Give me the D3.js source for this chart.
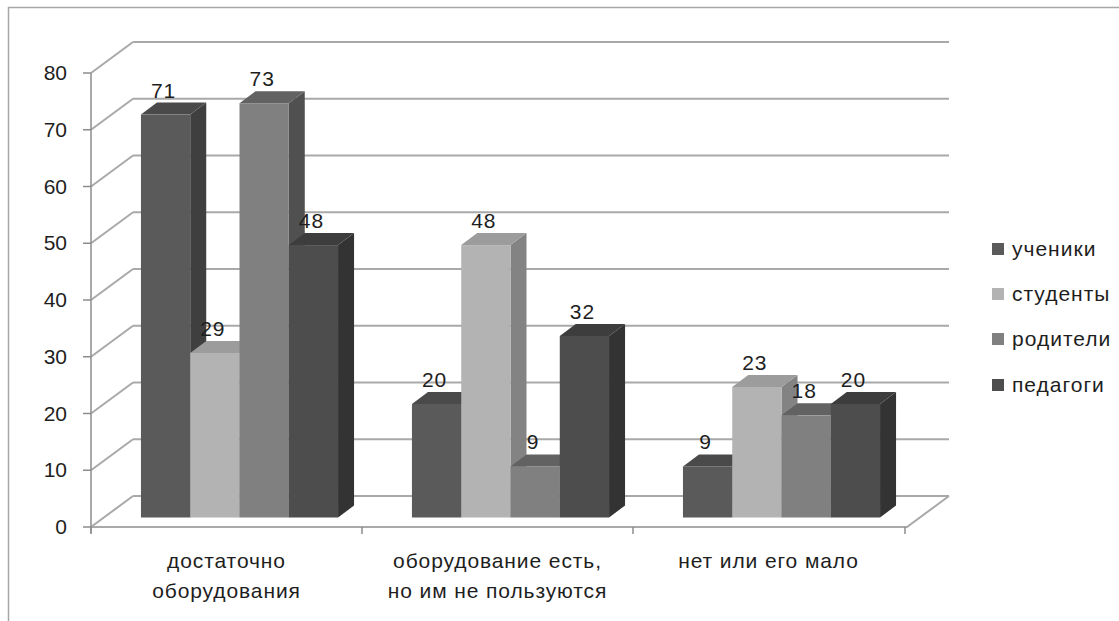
<!DOCTYPE html>
<html lang="ru">
<head>
<meta charset="utf-8">
<script src="https://cdn.jsdelivr.net/npm/d3@7"></script>
<style>
  html, body { margin: 0; padding: 0; background: #fff; }
  svg { display: block; }
  text { font-family: "Liberation Sans", Arial, sans-serif; fill: #1e1e1e; }
</style>
</head>
<body>
<svg id="chart" width="1119" height="621"></svg>
<script>
// Categories (two-line labels) and series
const categories = ["достаточно оборудования", "оборудование есть, но им не пользуются", "нет или его мало"];
const categoryLines = [["достаточно", "оборудования"], ["оборудование есть,", "но им не пользуются"], ["нет или его мало"]];
const seriesNames = ["ученики", "студенты", "родители", "педагоги"];
const pupils   = [71, 20, 9];
const students = [29, 48, 23];
const parents  = [73, 9, 18];
const teachers = [48, 32, 20];
const seriesValues = [pupils, students, parents, teachers];
const yTicks = [0, 10, 20, 30, 40, 50, 60, 70, 80];

// Face shades per series: front, top, side
const shades = [
  { front: "#5a5a5a", top: "#4a4a4a", side: "#3f3f3f" },
  { front: "#b3b3b3", top: "#9c9c9c", side: "#838383" },
  { front: "#808080", top: "#626262", side: "#505050" },
  { front: "#4d4d4d", top: "#3d3d3d", side: "#333333" }
];

const svg = d3.select("#chart");

// Outer frame (top and left edges)
svg.append("path")
  .attr("d", "M8.5,621 L8.5,7.5 L1119,7.5")
  .attr("fill", "none").attr("stroke", "#a6a6a6").attr("stroke-width", 1.5);

// Front plane geometry
const x0 = 91, x1 = 904;
const y = d3.scaleLinear().domain([0, 80]).range([527, 73]);
const x = d3.scaleBand().domain(categories).range([x0, x1]).padding(0);
const xs = d3.scaleBand().domain(seriesNames).range([0, x.bandwidth()])
  .paddingInner(0).paddingOuter(0.75);

// 3D depth offsets: full wall depth, bar placement, bar thickness
const DX = 42, DY = -31;
const BX = 13, BY = -9.5;
const TX = 16, TY = -12;

const gridColor = "#a9a9a9";
const grid = svg.append("g").attr("fill", "none").attr("stroke", gridColor).attr("stroke-width", 2);

// Back wall gridlines + left side wall diagonals
yTicks.forEach(v => {
  const yy = y(v);
  grid.append("path").attr("d", `M${x0 + DX},${yy + DY} L${x1 + 3 + DX},${yy + DY}`);
  grid.append("path").attr("d", `M${x0},${yy} L${x0 + DX},${yy + DY}`);
});
// Floor front edge and right edge
grid.append("path").attr("d", `M${x0},${y(0)} L${x1 + 3},${y(0)} L${x1 + 3 + DX},${y(0) + DY}`);

// Vertical axis with ticks
const axisG = svg.append("g").attr("stroke", "#8c8c8c").attr("stroke-width", 1.5).attr("fill", "none");
axisG.append("path").attr("d", `M${x0},${y(80)} L${x0},${y(0) + 6}`);
yTicks.forEach(v => axisG.append("path").attr("d", `M${x0 - 8},${y(v)} L${x0},${y(v)}`));
// Category boundary ticks on the floor edge
[0, 1, 2, 3].forEach(i => {
  const xx = i < 3 ? x(categories[i]) : x1 + 1;
  axisG.append("path").attr("d", `M${xx},${y(0)} L${xx},${y(0) + 7}`);
});

// Y tick labels
svg.append("g").selectAll("text").data(yTicks).join("text")
  .attr("x", 67).attr("y", d => y(d) + 7)
  .attr("text-anchor", "end").attr("font-size", 21)
  .text(d => d);

// Bars (drawn left to right so each front face covers the previous side face)
const barsG = svg.append("g");
const labelsG = svg.append("g");
categories.forEach((c, ci) => {
  seriesNames.forEach((s, si) => {
    const v = seriesValues[si][ci];
    const w = xs.bandwidth();
    const lx = x(c) + xs(s) + BX;
    const rx = lx + w;
    const by = y(0) + BY;
    const ty = y(v) + BY;
    const sh = shades[si];
    const g = barsG.append("g");
    // side face
    g.append("path").attr("fill", sh.side)
      .attr("d", `M${rx},${by} L${rx + TX},${by + TY} L${rx + TX},${ty + TY} L${rx},${ty} Z`);
    // top face
    g.append("path").attr("fill", sh.top)
      .attr("d", `M${lx},${ty} L${lx + TX},${ty + TY} L${rx + TX},${ty + TY} L${rx},${ty} Z`);
    // front face
    g.append("rect").attr("fill", sh.front)
      .attr("x", lx).attr("y", ty).attr("width", w).attr("height", by - ty);
    // value label
    labelsG.append("text")
      .attr("x", lx + w / 2 - 2).attr("y", ty + TY - 5)
      .attr("text-anchor", "middle").attr("font-size", 21)
      .attr("letter-spacing", 1)
      .text(v);
  });
});

// Category labels
categories.forEach((c, ci) => {
  const cx = x(c) + x.bandwidth() / 2;
  const t = svg.append("text").attr("text-anchor", "middle").attr("font-size", 21)
    .attr("letter-spacing", 0.9);
  categoryLines[ci].forEach((line, li) => {
    t.append("tspan").attr("x", cx).attr("y", 568 + li * 30).text(line);
  });
});

// Legend
const legendY = [249, 294, 339, 385];
const legend = svg.append("g");
seriesNames.forEach((s, i) => {
  legend.append("rect").attr("x", 992).attr("y", legendY[i] - 6)
    .attr("width", 12).attr("height", 12).attr("fill", shades[i].front);
  legend.append("text").attr("x", 1012).attr("y", legendY[i] + 7)
    .attr("font-size", 21).attr("letter-spacing", 1).text(s);
});
</script>
</body>
</html>
